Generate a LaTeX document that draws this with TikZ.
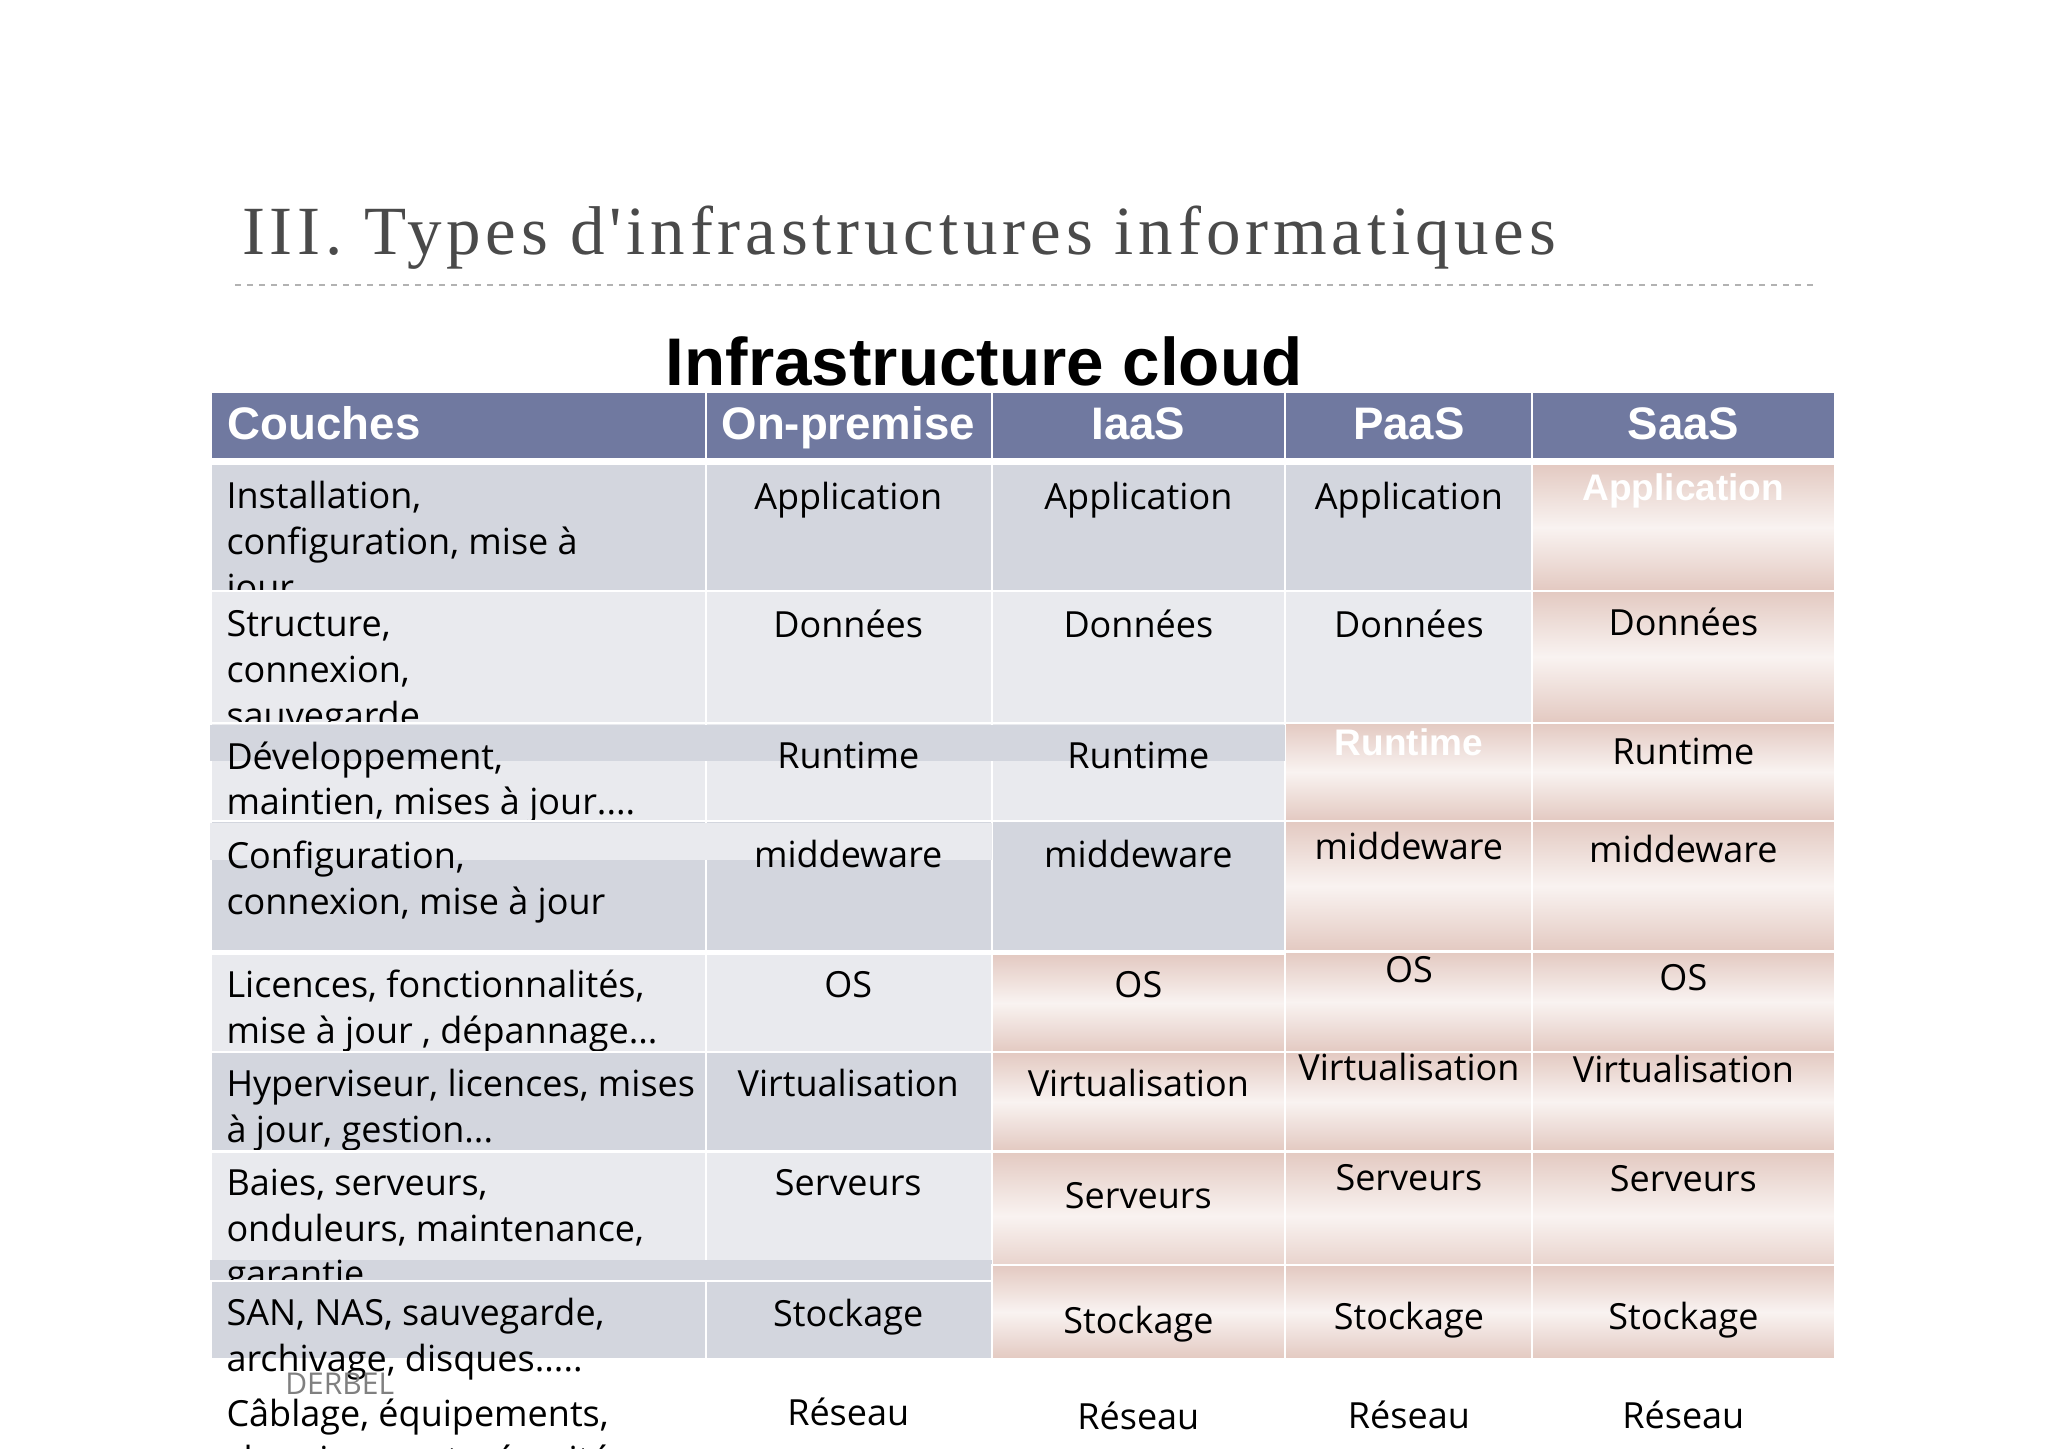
\documentclass[tikz,border=0pt]{standalone}
\usepackage{fontspec}
\setmainfont{Open Sans}
\newfontfamily\arialf{Liberation Sans}
\newfontfamily\titlef[LetterSpace=7]{Liberation Serif}
\definecolor{hdr}{HTML}{7079A0}
\definecolor{dk}{HTML}{D3D6DE}
\definecolor{lt}{HTML}{E9EAEE}
\definecolor{pk}{HTML}{E3C9C1}
\definecolor{pw}{HTML}{F9F3F1}
\definecolor{ttl}{HTML}{4A4A4A}
\tikzset{
 cellD/.style={fill=dk,draw=white,line width=1.2pt},
 cellL/.style={fill=lt,draw=white,line width=1.2pt},
 cellP/.style={top color=pk,bottom color=pk,middle color=pw,draw=white,line width=1.2pt},
 txt/.style={anchor=base,font=\fontsize{18}{22.9}\selectfont,inner sep=0pt},
 ltxt/.style={anchor=north west,align=left,font=\fontsize{18}{22.9}\selectfont,inner sep=0pt,yshift=20*0.6535pt},
 wtxt/.style={anchor=base,font=\arialf\bfseries\fontsize{18.5}{22.9}\selectfont,text=white,inner sep=0pt},
 htxt/.style={anchor=base,font=\arialf\bfseries\fontsize{22.8}{26}\selectfont,text=white,inner sep=0pt}
}
\begin{document}
\begin{tikzpicture}[x=0.6535pt,y=-0.6535pt]
\useasboundingbox[fill=white] (0,0) rectangle (1567,1108);
\begin{scope}
\clip (0,0) rectangle (1567,1108);
\node[anchor=base west,inner sep=0pt,text=ttl,font=\titlef\fontsize{34.5}{36}\selectfont] (title) at (185,195) {III. Types d'infrastructures informatiques};
\draw[gray!60,dashed,line width=0.6pt] (180,218) -- (1387,218);
\node[anchor=base,inner sep=0pt,font=\arialf\bfseries\fontsize{33.7}{36}\selectfont] (ic) at (753,295) {Infrastructure cloud};
% header
\foreach \a/\b in {161/540,540/759,759/983,983/1172,1172/1404}
  \fill[hdr,draw=white,line width=1.2pt] (\a,300) rectangle (\b,351);
\node[htxt,anchor=base west] (hc) at (174,336) {Couches};
\node[htxt] (ho) at (649,336) {On-premise};
\node[htxt] (hi) at (871,336) {IaaS};
\node[htxt] (hp) at (1078,336) {PaaS};
\node[htxt] (hs) at (1288,336) {SaaS};
% row1
\fill[cellD] (161,355) rectangle (540,452); \fill[cellD] (540,355) rectangle (759,452);
\fill[cellD] (759,355) rectangle (983,452); \fill[cellD] (983,355) rectangle (1172,452);
\fill[cellP] (1172,355) rectangle (1404,452);
\node[ltxt] (l1) at (173,388) {Installation,\\configuration, mise à\\jour};
\node[txt] (a1) at (649,390) {Application}; \node[txt] (a2) at (871,390) {Application};
\node[txt] (a3) at (1078,390) {Application}; \node[wtxt] (a4) at (1288,383) {Application};
% row2
\fill[cellL] (161,452) rectangle (540,553); \fill[cellL] (540,452) rectangle (759,553);
\fill[cellL] (759,452) rectangle (983,553); \fill[cellL] (983,452) rectangle (1172,553);
\fill[cellP] (1172,452) rectangle (1404,553);
\node[ltxt] (l2) at (173,487) {Structure,\\connexion,\\sauvegarde....};
\node[txt] (d1) at (649,488) {Données}; \node[txt] (d2) at (871,488) {Données};
\node[txt] (d3) at (1078,488) {Données}; \node[txt] (d4) at (1288,486) {Données};
% row3
\fill[cellL] (161,553) rectangle (540,628); \fill[cellL] (540,553) rectangle (759,628);
\fill[cellL] (759,553) rectangle (983,628); \fill[cellP] (983,553) rectangle (1172,628);
\fill[cellP] (1172,553) rectangle (1404,628);
\fill[dk] (161,555) rectangle (983,582);
\node[ltxt] (l3) at (173,587) {Développement,\\maintien, mises à jour....};
\node[txt] (r1) at (649,588) {Runtime}; \node[txt] (r2) at (871,588) {Runtime};
\node[wtxt] (r3) at (1078,578) {Runtime}; \node[txt] (r4) at (1288,585) {Runtime};
% row4
\fill[cellD] (161,628) rectangle (540,728); \fill[cellD] (540,628) rectangle (759,728);
\fill[cellD] (759,628) rectangle (983,728); \fill[cellP] (983,628) rectangle (1172,728);
\fill[cellP] (1172,628) rectangle (1404,728);
\fill[lt] (161,630) rectangle (759,658);
\node[ltxt] (l4) at (173,663) {Configuration,\\connexion, mise à jour\\...};
\node[txt] (m1) at (649,664) {middeware}; \node[txt] (m2) at (871,664) {middeware};
\node[txt] (m3) at (1078,658) {middeware}; \node[txt] (m4) at (1288,660) {middeware};
% row5
\fill[cellL] (161,730) rectangle (540,805); \fill[cellL] (540,730) rectangle (759,805);
\fill[cellP] (759,730) rectangle (983,805); \fill[cellP] (983,728) rectangle (1172,805);
\fill[cellP] (1172,728) rectangle (1404,805);
\node[ltxt] (l5) at (173,762) {Licences, fonctionnalités,\\mise à jour , dépannage...};
\node[txt] (o1) at (649,763) {OS}; \node[txt] (o2) at (871,763) {OS};
\node[txt] (o3) at (1078,752) {OS}; \node[txt] (o4) at (1288,758) {OS};
% row6
\fill[cellD] (161,805) rectangle (540,881); \fill[cellD] (540,805) rectangle (759,881);
\fill[cellP] (759,805) rectangle (983,881); \fill[cellP] (983,805) rectangle (1172,881);
\fill[cellP] (1172,805) rectangle (1404,881);
\node[ltxt] (l6) at (173,838) {Hyperviseur, licences, mises\\à jour, gestion...};
\node[txt] (v1) at (649,839) {Virtualisation}; \node[txt] (v2) at (871,839) {Virtualisation};
\node[txt] (v3) at (1078,827) {Virtualisation}; \node[txt] (v4) at (1288,828) {Virtualisation};
% row7
\fill[cellL] (161,881) rectangle (540,980); \fill[cellL] (540,881) rectangle (759,980);
\fill[cellP] (759,881) rectangle (983,980); \fill[cellP] (983,881) rectangle (1172,980);
\fill[cellP] (1172,881) rectangle (1404,980);
\fill[dk] (161,964) rectangle (759,980);
\node[ltxt] (l7) at (173,914) {Baies, serveurs,\\onduleurs, maintenance,\\garantie, ....};
\node[txt] (s1) at (649,915) {Serveurs}; \node[txt] (s2) at (871,925) {Serveurs};
\node[txt] (s3) at (1078,911) {Serveurs}; \node[txt] (s4) at (1288,912) {Serveurs};
% row8
\fill[cellD] (161,980) rectangle (540,1040); \fill[cellD] (540,980) rectangle (759,1040);
\fill[cellP] (759,968) rectangle (983,1040); \fill[cellP] (983,968) rectangle (1172,1040);
\fill[cellP] (1172,968) rectangle (1404,1040);
\node[ltxt] (l8) at (173,1013) {SAN, NAS, sauvegarde,\\archivage, disques.....};
\node[txt] (k1) at (649,1015) {Stockage}; \node[txt] (k2) at (871,1020) {Stockage};
\node[txt] (k3) at (1078,1017) {Stockage}; \node[txt] (k4) at (1288,1017) {Stockage};
% row9
\node[anchor=base west,inner sep=0pt,text=gray,font=\fontsize{15}{18}\selectfont] (derbel) at (218,1067) {DERBEL};
\node[ltxt] (l9) at (173,1090) {Câblage, équipements,\\cheminement, sécurité...};
\node[txt] (n1) at (649,1091) {Réseau}; \node[txt] (n2) at (871,1094) {Réseau};
\node[txt] (n3) at (1078,1093) {Réseau}; \node[txt] (n4) at (1288,1093) {Réseau};
\end{scope}
\end{tikzpicture}
\end{document}
